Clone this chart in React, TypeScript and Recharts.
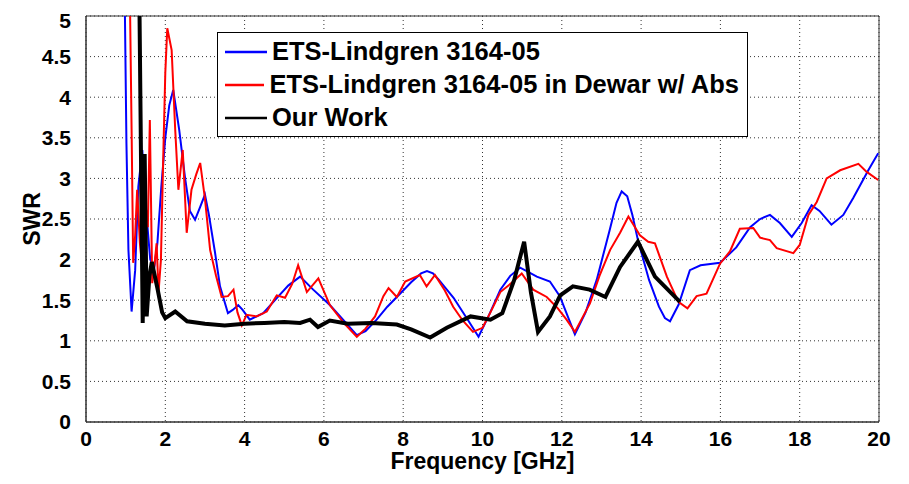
import React from 'react';
import { LineChart, Line, XAxis, YAxis, CartesianGrid, ReferenceArea, Legend, Label } from 'recharts';

// Frequency in GHz, SWR
const etsFreq = [0.97, 1.02, 1.07, 1.15, 1.24, 1.32, 1.42, 1.5, 1.62, 1.72, 1.8, 1.9, 2.0, 2.1, 2.2, 2.35, 2.5, 2.62, 2.75, 2.88, 3.0, 3.1, 3.25, 3.38, 3.58, 3.7, 3.84, 3.95, 4.13, 4.47, 4.8, 5.1, 5.4, 5.73, 6.15, 6.5, 6.83, 7.05, 7.33, 7.6, 7.84, 8.2, 8.45, 8.6, 8.75, 8.9, 9.27, 9.6, 9.9, 10.15, 10.45, 10.7, 10.95, 11.15, 11.37, 11.7, 11.95, 12.15, 12.33, 12.6, 12.88, 13.2, 13.38, 13.51, 13.65, 13.78, 13.92, 14.2, 14.45, 14.6, 14.73, 14.95, 15.23, 15.5, 15.99, 16.4, 16.75, 17.0, 17.25, 17.5, 17.8, 18.05, 18.3, 18.5, 18.8, 19.1, 19.35, 19.73, 19.98];
const etsSwr = [5.5, 3.43, 2.12, 1.36, 1.87, 2.9, 3.35, 2.7, 2.0, 1.9, 2.2, 2.9, 3.5, 3.9, 4.09, 3.6, 3.0, 2.6, 2.49, 2.65, 2.8, 2.55, 2.1, 1.67, 1.34, 1.38, 1.44, 1.38, 1.26, 1.34, 1.52, 1.68, 1.79, 1.63, 1.44, 1.25, 1.07, 1.12, 1.26, 1.42, 1.54, 1.72, 1.83, 1.86, 1.83, 1.75, 1.53, 1.28, 1.05, 1.3, 1.63, 1.8, 1.9, 1.85, 1.79, 1.73, 1.55, 1.3, 1.08, 1.35, 1.75, 2.35, 2.7, 2.84, 2.78, 2.55, 2.24, 1.75, 1.42, 1.28, 1.24, 1.45, 1.87, 1.93, 1.96, 2.15, 2.4, 2.5, 2.55, 2.45, 2.28, 2.45, 2.67, 2.6, 2.43, 2.55, 2.76, 3.1, 3.31];

const dewarFreq = [1.1, 1.15, 1.19, 1.24, 1.29, 1.36, 1.42, 1.49, 1.56, 1.61, 1.67, 1.73, 1.78, 1.83, 1.89, 1.95, 2.0, 2.05, 2.16, 2.25, 2.33, 2.44, 2.54, 2.66, 2.78, 2.88, 3.0, 3.13, 3.28, 3.42, 3.58, 3.72, 3.82, 3.93, 4.05, 4.3, 4.56, 4.81, 5.02, 5.2, 5.35, 5.57, 5.86, 6.15, 6.5, 6.83, 7.05, 7.29, 7.5, 7.63, 7.84, 8.05, 8.42, 8.59, 8.8, 9.05, 9.26, 9.5, 9.76, 10.0, 10.2, 10.45, 10.75, 10.99, 11.28, 11.62, 11.9, 12.12, 12.33, 12.71, 12.95, 13.22, 13.47, 13.68, 13.97, 14.18, 14.35, 14.65, 14.94, 15.17, 15.4, 15.65, 15.99, 16.24, 16.49, 16.83, 17.0, 17.25, 17.42, 17.84, 18.0, 18.22, 18.43, 18.68, 19.02, 19.48, 19.69, 19.98];
const dewarSwr = [5.5, 3.6, 1.96, 2.3, 2.86, 2.2, 1.9, 2.73, 2.4, 3.72, 1.71, 1.95, 2.2, 1.6, 2.0, 3.3, 4.3, 4.85, 4.58, 3.6, 2.86, 3.35, 2.33, 2.86, 3.05, 3.19, 2.75, 2.12, 1.8, 1.54, 1.55, 1.63, 1.35, 1.19, 1.32, 1.3, 1.36, 1.56, 1.53, 1.7, 1.93, 1.6, 1.77, 1.44, 1.22, 1.05, 1.15, 1.3, 1.55, 1.65, 1.54, 1.73, 1.81, 1.67, 1.81, 1.62, 1.42, 1.25, 1.11, 1.16, 1.35, 1.6, 1.72, 1.83, 1.63, 1.54, 1.4, 1.26, 1.11, 1.46, 1.8, 2.12, 2.33, 2.53, 2.3, 2.22, 2.2, 1.79, 1.48, 1.4, 1.55, 1.58, 1.95, 2.1, 2.38, 2.39, 2.27, 2.24, 2.14, 2.08, 2.18, 2.55, 2.71, 3.0, 3.1, 3.18, 3.08, 2.98];

const oursFreq = [1.34, 1.43, 1.48, 1.53, 1.6, 1.66, 1.8, 1.92, 2.0, 2.25, 2.55, 3.0, 3.5, 4.0, 4.5, 5.0, 5.4, 5.65, 5.85, 6.15, 6.6, 7.2, 7.84, 8.2, 8.68, 9.1, 9.7, 10.2, 10.5, 10.8, 11.05, 11.22, 11.4, 11.7, 11.96, 12.28, 12.7, 13.1, 13.47, 13.92, 14.35, 14.98];
const oursSwr = [5.5, 1.22, 3.3, 1.3, 1.8, 1.97, 1.65, 1.35, 1.28, 1.36, 1.24, 1.21, 1.19, 1.21, 1.22, 1.23, 1.22, 1.26, 1.17, 1.25, 1.21, 1.22, 1.2, 1.14, 1.04, 1.16, 1.3, 1.26, 1.34, 1.75, 2.22, 1.6, 1.11, 1.3, 1.56, 1.67, 1.63, 1.54, 1.91, 2.22, 1.79, 1.48];

const xTicks = [0, 2, 4, 6, 8, 10, 12, 14, 16, 18, 20];
const yTicks = [0, 0.5, 1, 1.5, 2, 2.5, 3, 3.5, 4, 4.5, 5];

const zip = (f: number[], v: number[]) => f.map((x, i) => ({ f: x, v: v[i] }));

const series = [
  { name: 'ETS-Lindgren 3164-05', color: '#0000ff', width: 2, data: zip(etsFreq, etsSwr) },
  { name: 'ETS-Lindgren 3164-05 in Dewar w/ Abs', color: '#ff0000', width: 2, data: zip(dewarFreq, dewarSwr) },
  { name: 'Our Work', color: '#000000', width: 4, data: zip(oursFreq, oursSwr) },
];

const font = '"Liberation Sans Narrow", "Liberation Sans", Arial, sans-serif';
const tickStyle = { fontFamily: font, fontWeight: 'bold' as const, fontSize: 21, fill: '#000' };

const LegendBox = () => (
  <div
    style={{
      border: '1px solid #000',
      background: '#fff',
      padding: '2px 8px 2px 7px',
      width: 514,
      fontFamily: '"Liberation Sans", Arial, sans-serif',
      fontWeight: 'bold',
      fontSize: 25.5,
      color: '#000',
    }}
  >
    {series.map(s => (
      <div key={s.name} style={{ display: 'flex', alignItems: 'center', height: 33 }}>
        <svg width={42} height={6} style={{ marginRight: 5 }}>
          <line x1={0} y1={3} x2={42} y2={3} stroke={s.color} strokeWidth={2.5} />
        </svg>
        <span style={{ lineHeight: '33px', whiteSpace: 'nowrap' }}>{s.name}</span>
      </div>
    ))}
  </div>
);

export default function App() {
  return (
    <LineChart width={893} height={468} margin={{ top: 8, right: 22, bottom: 0, left: 0 }}>
      <CartesianGrid stroke="#333" strokeDasharray="1 3" />
      <XAxis
        type="number"
        dataKey="f"
        domain={[0, 20]}
        ticks={xTicks}
        allowDataOverflow
        height={54}
        tickLine={false}
        tickSize={6}
        tickMargin={3}
        axisLine={{ stroke: '#333' }}
        tick={tickStyle}
      >
        <Label value="Frequency [GHz]" position="center" dy={12} style={{ ...tickStyle, fontSize: 23 }} />
      </XAxis>
      <YAxis
        type="number"
        dataKey="v"
        domain={[0, 5]}
        ticks={yTicks}
        allowDataOverflow
        width={78}
        tickLine={false}
        tickSize={6}
        tickMargin={9}
        axisLine={{ stroke: '#333' }}
        tick={tickStyle}
      >
        <Label value="SWR" angle={-90} position="center" dx={-15} style={{ ...tickStyle, fontSize: 23, fontFamily: '"Liberation Sans", Arial, sans-serif' }} />
      </YAxis>
      <ReferenceArea x1={0} x2={20} y1={0} y2={5} fill="none" stroke="#333" strokeWidth={1} />
      {series.map(s => (
        <Line
          key={s.name}
          data={s.data}
          dataKey="v"
          name={s.name}
          type="linear"
          stroke={s.color}
          strokeWidth={s.width}
          dot={false}
          isAnimationActive={false}
        />
      ))}
      <Legend
        layout="horizontal"
        verticalAlign="middle"
        align="center"
        content={<LegendBox />}
        wrapperStyle={{ top: 24, left: 209, width: 'auto', height: 'auto' }}
      />
    </LineChart>
  );
}
